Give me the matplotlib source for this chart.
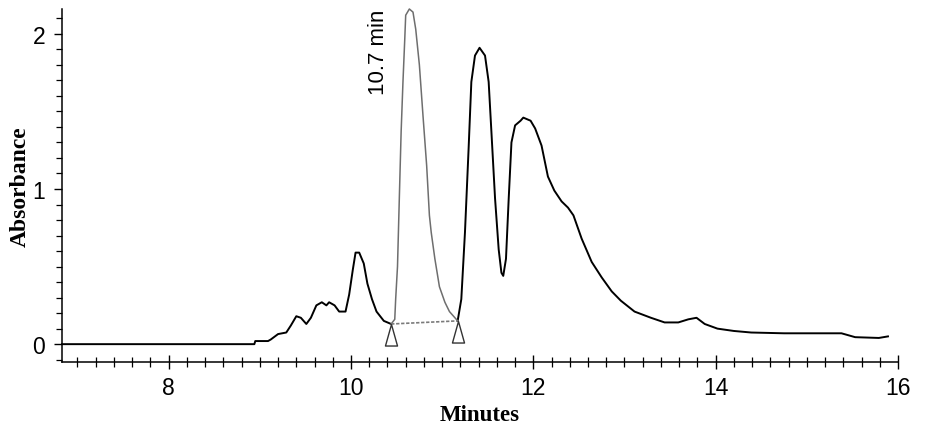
import numpy as np
import matplotlib
matplotlib.use('Agg')
import matplotlib.pyplot as plt
from matplotlib.path import Path
from matplotlib.ticker import MultipleLocator

# ---- data ----
time_min = [6.83, 8.94, 8.95, 9.09, 9.12, 9.20, 9.29, 9.34, 9.40, 9.45,
            9.51, 9.56, 9.62, 9.68, 9.73, 9.76, 9.82, 9.87, 9.94, 9.98,
            10.02, 10.05, 10.09, 10.14, 10.18, 10.23, 10.28, 10.36, 10.44,
            10.48, 10.49, 10.51, 10.53, 10.55, 10.57, 10.59, 10.60, 10.64, 10.68,
            10.71, 10.75, 10.79, 10.83, 10.86, 10.88, 10.92, 10.97, 11.03, 11.08,
            11.14, 11.17,
            11.21, 11.25, 11.29, 11.32, 11.36, 11.41, 11.47, 11.51, 11.54, 11.58,
            11.62, 11.65, 11.67, 11.70, 11.73, 11.76, 11.80, 11.86, 11.89, 11.97,
            12.02, 12.09, 12.16, 12.23, 12.31, 12.38, 12.44, 12.53, 12.64, 12.75,
            12.86, 12.96, 13.11, 13.29, 13.44, 13.59, 13.70, 13.79, 13.88, 14.02,
            14.20, 14.39, 14.75, 15.12, 15.38, 15.53, 15.79, 15.89]
absorbance = [0, 0, 0.02, 0.02, 0.03, 0.065, 0.075, 0.12, 0.18, 0.17,
              0.13, 0.17, 0.25, 0.27, 0.25, 0.27, 0.25, 0.21, 0.21, 0.32,
              0.48, 0.59, 0.59, 0.52, 0.39, 0.29, 0.21, 0.15, 0.13,
              0.16, 0.29, 0.50, 0.94, 1.37, 1.69, 1.97, 2.12, 2.16, 2.14,
              2.03, 1.80, 1.47, 1.15, 0.83, 0.72, 0.55, 0.37, 0.27, 0.21,
              0.17, 0.15,
              0.29, 0.72, 1.26, 1.69, 1.86, 1.91, 1.86, 1.69, 1.37, 0.94,
              0.61, 0.46, 0.44, 0.55, 0.94, 1.30, 1.41, 1.44, 1.46, 1.44,
              1.39, 1.28, 1.08, 0.99, 0.92, 0.88, 0.83, 0.68, 0.53, 0.43,
              0.34, 0.28, 0.21, 0.17, 0.14, 0.14, 0.16, 0.17, 0.13, 0.10,
              0.085, 0.075, 0.07, 0.07, 0.07, 0.045, 0.04, 0.05]
peak_bounds = [10.44, 11.17]        # integration start / end (min)
peak_base = [0.13, 0.15]            # baseline absorbance at the bounds
peak_label = "10.7 min"
x_ticks = [8, 10, 12, 14, 16]
y_ticks = [0, 1, 2]

t = np.array(time_min)
a = np.array(absorbance)

fig = plt.figure(figsize=(9.25, 4.31), dpi=100)
ax = fig.add_axes([62/925, 68/431, 836/925, 353/431])

# main trace (black) and integrated peak (grey)
inside = (t >= peak_bounds[0]) & (t <= peak_bounds[1])
before = t <= peak_bounds[0]
after = t >= peak_bounds[1]
ax.plot(t[before], a[before], color='black', lw=1.4, clip_on=False)
ax.plot(t[after], a[after], color='black', lw=1.4, clip_on=False)
ax.plot(t[inside], a[inside], color='#6e6e6e', lw=1.1, clip_on=False)

# baseline between integration marks
ax.plot(peak_bounds, peak_base, color='#7a7a7a', lw=1.2,
        linestyle=(0, (2, 1)))
tri = Path([(0, 0), (-0.28, -1), (0.28, -1), (0, 0)],
           [Path.MOVETO, Path.LINETO, Path.LINETO, Path.CLOSEPOLY])
ax.plot(peak_bounds, peak_base, linestyle='none', marker=tri,
        markersize=31, markerfacecolor='none', markeredgecolor='#333333',
        markeredgewidth=1.0)

ax.text(10.30, 2.16, peak_label, rotation=90, ha='center', va='top',
        fontsize=16, family='Liberation Sans')

ax.set_xlim(6.83, 16.0)
ax.set_ylim(-0.115, 2.16)
ax.set_xticks(x_ticks)
ax.set_yticks(y_ticks)
ax.xaxis.set_minor_locator(MultipleLocator(0.2))
ax.yaxis.set_minor_locator(MultipleLocator(0.1))
for lab in ax.get_xticklabels() + ax.get_yticklabels():
    lab.set_family('Liberation Sans')
    lab.set_fontsize(16.5)

ax.tick_params(axis='x', which='major', direction='inout', length=10, width=1.0, pad=5)
ax.tick_params(axis='x', which='minor', direction='inout', length=7, width=0.9)
ax.tick_params(axis='y', which='major', direction='out', length=6, width=1.0, pad=6)
ax.tick_params(axis='y', which='minor', direction='out', length=4, width=0.9)
for s in ['top', 'right']:
    ax.spines[s].set_visible(False)
for s in ['left', 'bottom']:
    ax.spines[s].set_linewidth(1.1)

ax.set_xlabel('Minutes', family='Liberation Serif', fontweight='bold',
              fontsize=16.5, labelpad=4)
ax.set_ylabel('Absorbance', family='Liberation Serif', fontweight='bold',
              fontsize=17, labelpad=1)

fig.savefig('out.png', dpi=100)
